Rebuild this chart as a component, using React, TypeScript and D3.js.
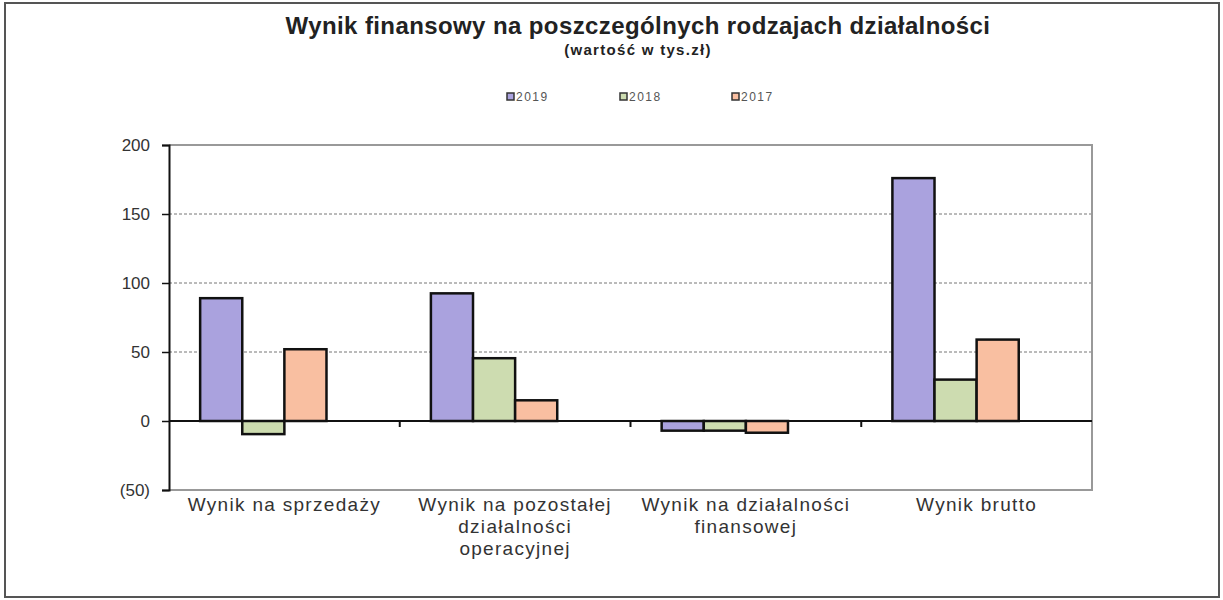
import React, { useRef, useEffect } from 'react';
import * as d3 from 'd3';

const categories: string[][] = [
  ['Wynik na sprzedaży'],
  ['Wynik na pozostałej', 'działalności', 'operacyjnej'],
  ['Wynik na działalności', 'finansowej'],
  ['Wynik brutto'],
];
const seriesNames = ['2019', '2018', '2017'];
const seriesColors = ['#aaa2de', '#cddcb0', '#f9bfa1'];
const values2019 = [89, 92.5, -7, 176];
const values2018 = [-9.5, 45.5, -7, 30];
const values2017 = [52, 15, -8.5, 59];
const yTicks = [-50, 0, 50, 100, 150, 200];

const App: React.FC = () => {
  const svgRef = useRef<SVGSVGElement>(null);

  useEffect(() => {
    if (!svgRef.current) return;
    const svg = d3.select(svgRef.current);
    svg.selectAll('*').remove();

    const left = 169, right = 1092, top = 145, bottom = 490;
    const series = [values2019, values2018, values2017];
    const keys = categories.map((c, i) => String(i));

    const x = d3.scaleBand().domain(keys).range([left, right])
      .paddingInner(0.27).paddingOuter(0.135);
    // excel leaves an empty fourth slot in each group
    const xs = d3.scaleBand().domain(['0', '1', '2', '3']).range([0, x.bandwidth()]);
    const y = d3.scaleLinear().domain([-50, 200]).range([bottom, top]);
    const font = 'Liberation Sans, Arial, sans-serif';
    const slotStart = (k: string) => (x(k) || 0) - x.step() * x.paddingInner() / 2;

    // outer frame
    svg.append('rect')
      .attr('x', 5).attr('y', 3).attr('width', 1214).attr('height', 594)
      .attr('fill', 'white').attr('stroke', '#555').attr('stroke-width', 2);

    svg.append('text')
      .attr('x', 638).attr('y', 34).attr('text-anchor', 'middle')
      .attr('font-family', font).attr('font-weight', 'bold').attr('font-size', 24)
      .attr('fill', '#222').attr('letter-spacing', 0.4)
      .text('Wynik finansowy na poszczególnych rodzajach działalności');
    svg.append('text')
      .attr('x', 638).attr('y', 55).attr('text-anchor', 'middle')
      .attr('font-family', font).attr('font-weight', 'bold').attr('font-size', 15)
      .attr('fill', '#222').attr('letter-spacing', 1.3)
      .text('(wartość w tys.zł)');

    // legend
    const legendX = [507, 620, 732];
    seriesNames.forEach((name, i) => {
      const g = svg.append('g').attr('transform', `translate(${legendX[i]},97)`);
      g.append('rect').attr('x', 0).attr('y', -4).attr('width', 7).attr('height', 7)
        .attr('fill', seriesColors[i]).attr('stroke', '#333').attr('stroke-width', 1.5);
      g.append('text').attr('x', 9).attr('y', 4)
        .attr('font-family', font).attr('font-size', 12).attr('fill', '#555')
        .attr('letter-spacing', 1.5)
        .text(name);
    });

    // gridlines
    svg.append('g').selectAll('line')
      .data(yTicks.filter(t => t !== 0 && t !== -50 && t !== 200))
      .enter().append('line')
      .attr('x1', left).attr('x2', right)
      .attr('y1', d => y(d)).attr('y2', d => y(d))
      .attr('stroke', '#777').attr('stroke-width', 1).attr('stroke-dasharray', '3,2');

    // plot border
    svg.append('path')
      .attr('d', `M${left},${top}H${right}V${bottom}H${left}`)
      .attr('fill', 'none').attr('stroke', '#999').attr('stroke-width', 2);

    // bars
    series.forEach((vals, si) => {
      svg.append('g').selectAll('rect')
        .data(vals)
        .enter().append('rect')
        .attr('x', (d, i) => (x(keys[i]) || 0) + (xs(String(si)) || 0))
        .attr('y', d => y(Math.max(0, d)))
        .attr('width', xs.bandwidth())
        .attr('height', d => Math.abs(y(d) - y(0)))
        .attr('fill', seriesColors[si])
        .attr('stroke', '#111').attr('stroke-width', 2.5);
    });

    // zero line with category ticks
    svg.append('line')
      .attr('x1', left).attr('x2', right).attr('y1', y(0)).attr('y2', y(0))
      .attr('stroke', '#111').attr('stroke-width', 2);
    svg.append('g').selectAll('line')
      .data(keys.slice(1))
      .enter().append('line')
      .attr('x1', k => slotStart(k)).attr('x2', k => slotStart(k))
      .attr('y1', y(0)).attr('y2', y(0) + 6)
      .attr('stroke', '#111').attr('stroke-width', 2);

    // y axis
    const yAxis = svg.append('g')
      .attr('transform', `translate(${left},0)`)
      .call(d3.axisLeft(y).tickValues(yTicks).tickSize(7).tickPadding(12)
        .tickFormat(d => (+d < 0 ? `(${Math.abs(+d)})` : String(d))));
    yAxis.select('.domain').attr('stroke', '#111').attr('stroke-width', 2);
    yAxis.selectAll('line').attr('stroke', '#111').attr('stroke-width', 1.5);
    yAxis.selectAll('text')
      .attr('font-family', font).attr('font-size', 17).attr('fill', '#333');

    // category labels
    keys.forEach((k, i) => {
      const cx = (x(k) || 0) + x.bandwidth() / 2;
      const t = svg.append('text')
        .attr('text-anchor', 'middle')
        .attr('font-family', font).attr('font-size', 19).attr('fill', '#333')
        .attr('letter-spacing', 1.3);
      categories[i].forEach((ln, li) => {
        t.append('tspan').attr('x', cx).attr('y', 511 + li * 22).text(ln);
      });
    });
  }, []);

  return (
    <svg ref={svgRef} width={1223} height={600}
      style={{ position: 'absolute', left: 0, top: 0 }}></svg>
  );
};

export default App;
